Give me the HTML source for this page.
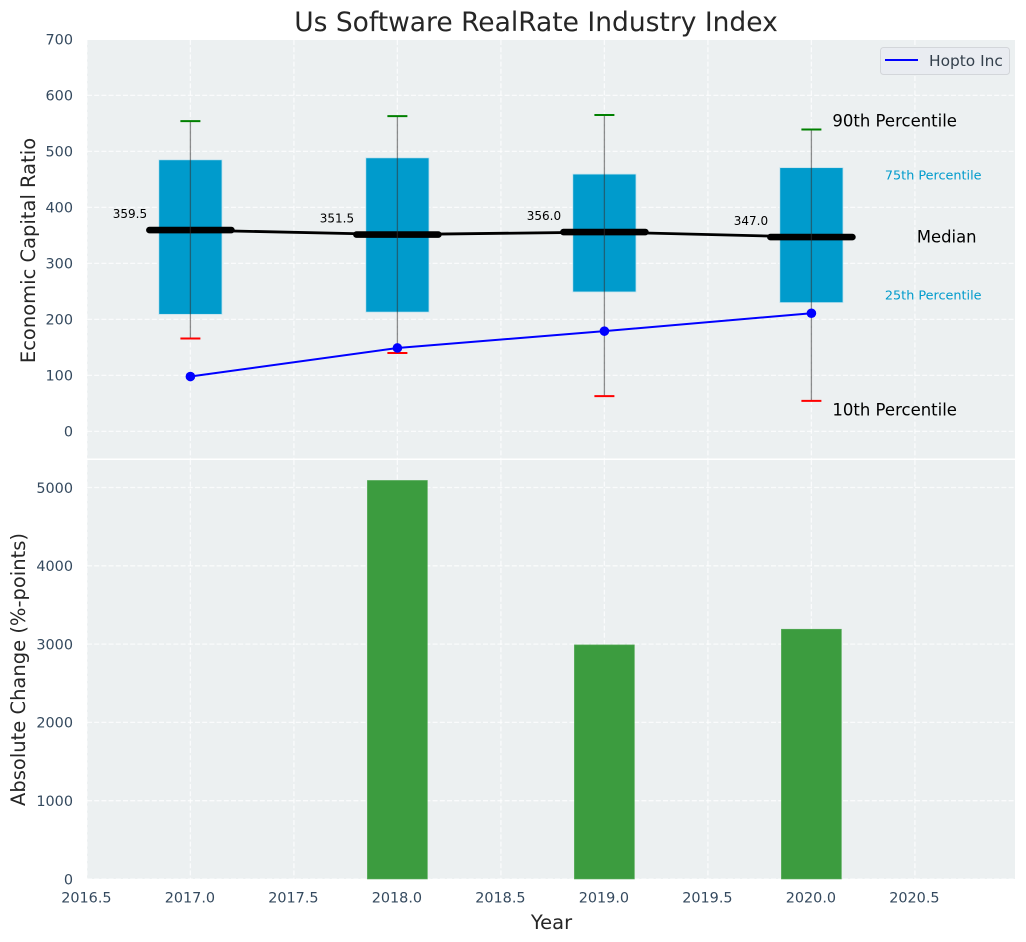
<!DOCTYPE html>
<html lang="en">
<head>
<meta charset="utf-8">
<title>Us Software RealRate Industry Index</title>
<style>
html,body{margin:0;padding:0;background:#fff;}
#chart{display:block;width:1026px;height:942px;font-family:"DejaVu Sans","Liberation Sans",sans-serif;}
</style>
</head>
<body>
<svg id="chart" xmlns="http://www.w3.org/2000/svg" width="1026" height="942" viewBox="0 0 1026 942">
  <rect x="87" y="40" width="928" height="418.5" fill="#ecf0f1"/>
  <rect x="87" y="460" width="928" height="419" fill="#ecf0f1"/>
  <g id="grid"></g>
  <g id="bars"></g>
  <g id="boxes"></g>
  <g id="labels"></g>
  <text x="536" y="31" font-size="26.5" fill="#262626" text-anchor="middle">Us Software RealRate Industry Index</text>
  <text transform="translate(35,250.5) rotate(-90)" font-size="19.5" fill="#262626" text-anchor="middle">Economic Capital Ratio</text>
  <text transform="translate(25,669.5) rotate(-90)" font-size="19.5" fill="#262626" text-anchor="middle">Absolute Change (%-points)</text>
  <text x="551.5" y="929" font-size="19.5" fill="#262626" text-anchor="middle">Year</text>
  <g>
    <rect x="880.5" y="47.5" width="129" height="27" rx="3" fill="#e9ecf1" stroke="#d3d6da" stroke-width="1"/>
    <line x1="885" y1="60" x2="918" y2="60" stroke="#0000ff" stroke-width="2"/>
    <text x="929" y="66" font-size="15.4" fill="#34404c">Hopto Inc</text>
  </g>
</svg>
<script>
const years = [2017, 2018, 2019, 2020];
const p90 = [554, 563, 565, 539];
const q3 = [485, 488.5, 459.5, 471];
const medians = [359.5, 351.5, 356.0, 347.0];
const q1 = [209, 213, 249, 230];
const p10 = [166, 140, 63, 54.6];
const company = [98, 149, 179, 211];
const changes = [null, 5090, 2990, 3190];
const xTicks = [2016.5, 2017.0, 2017.5, 2018.0, 2018.5, 2019.0, 2019.5, 2020.0, 2020.5];
const topYTicks = [0, 100, 200, 300, 400, 500, 600, 700];
const bottomYTicks = [0, 1000, 2000, 3000, 4000, 5000];

const NS = 'http://www.w3.org/2000/svg';
const xScale = function (v) { return 190.4 + (v - 2017) * 207; };
const yTop = function (v) { return 431.4 - v * 0.56; };
const yBottom = function (v) { return 879 - v * 0.0783; };

function make(parent, tag, attrs, text) {
  const el = document.createElementNS(NS, tag);
  Object.keys(attrs).forEach(function (k) { el.setAttribute(k, attrs[k]); });
  if (text !== undefined) { el.textContent = text; }
  parent.appendChild(el);
  return el;
}

const gridG = document.getElementById('grid');
const barsG = document.getElementById('bars');
const boxesG = document.getElementById('boxes');
const labelsG = document.getElementById('labels');
const gridStyle = { stroke: '#ffffff', 'stroke-width': 1.3, 'stroke-dasharray': '5 2.2', 'stroke-opacity': 0.75 };

xTicks.forEach(function (t) {
  const a = make(gridG, 'line', Object.assign({ x1: xScale(t), x2: xScale(t), y1: 40, y2: 458.5 }, gridStyle));
  
  
  const b = make(gridG, 'line', Object.assign({ x1: xScale(t), x2: xScale(t), y1: 460, y2: 879 }, gridStyle));
  
  
  const lab = make(labelsG, 'text', { x: xScale(t) - 0.5, y: 902.5, 'font-size': 14.4, fill: '#34495e', 'text-anchor': 'middle' }, t.toFixed(1));
  
  
});

topYTicks.forEach(function (t) {
  const l = make(gridG, 'line', Object.assign({ x1: 87, x2: 1015, y1: yTop(t), y2: yTop(t) }, gridStyle));
  
  
  const lab = make(labelsG, 'text', { x: 73, y: yTop(t) + 5.3, 'font-size': 14.4, fill: '#34495e', 'text-anchor': 'end' }, String(t));
  
  
});

bottomYTicks.forEach(function (t) {
  const l = make(gridG, 'line', Object.assign({ x1: 87, x2: 1015, y1: yBottom(t), y2: yBottom(t) }, gridStyle));
  
  
  const lab = make(labelsG, 'text', { x: 73, y: yBottom(t) + 5.3, 'font-size': 14.4, fill: '#34495e', 'text-anchor': 'end' }, String(t));
  
  
});

changes.forEach(function (v, i) {
  if (v === null) { return; }
  const h = yBottom(0) - yBottom(v);
  const bar = make(barsG, 'rect', { x: xScale(years[i] - 0.145), y: yBottom(v), width: 207 * 0.29, height: h, fill: '#3c9c3f', stroke: '#5aad5c', 'stroke-width': 0.6 });
  
  
});

years.forEach(function (yr, i) {
  const cx = xScale(yr);
  const box = make(boxesG, 'rect', { x: cx - 31.6, y: yTop(q3[i]), width: 63.2, height: yTop(q1[i]) - yTop(q3[i]), fill: '#009bcc', stroke: '#c2e3ee', 'stroke-width': 0.8 });
  
  
});

const medianPts = years.map(function (yr, i) { return xScale(yr) + ',' + yTop(medians[i]); }).join(' ');
const medianLine = make(boxesG, 'polyline', { points: medianPts, fill: 'none', stroke: '#000000', 'stroke-width': 2.8 });



years.forEach(function (yr, i) {
  const cx = xScale(yr);
  const m = make(boxesG, 'line', { x1: cx - 41, x2: cx + 41, y1: yTop(medians[i]), y2: yTop(medians[i]), stroke: '#000000', 'stroke-width': 6.6, 'stroke-linecap': 'round' });
  
  
  const w = make(boxesG, 'line', { x1: cx, x2: cx, y1: yTop(p90[i]), y2: yTop(p10[i]), stroke: '#333333', 'stroke-opacity': 0.55, 'stroke-width': 1.3 });
  
  
  const hi = make(boxesG, 'line', { x1: cx - 10, x2: cx + 10, y1: yTop(p90[i]), y2: yTop(p90[i]), stroke: '#008000', 'stroke-width': 2 });
  
  
  const lo = make(boxesG, 'line', { x1: cx - 10, x2: cx + 10, y1: yTop(p10[i]), y2: yTop(p10[i]), stroke: '#ff0000', 'stroke-width': 2 });
  
  
  const val = make(boxesG, 'text', { x: cx - 60.5, y: yTop(medians[i]) - 12, 'font-size': 12, fill: '#000000', 'text-anchor': 'middle' }, medians[i].toFixed(1));
  
  
});

const companyPts = years.map(function (yr, i) { return xScale(yr) + ',' + yTop(company[i]); }).join(' ');
const companyLine = make(boxesG, 'polyline', { points: companyPts, fill: 'none', stroke: '#0000ff', 'stroke-width': 2 });



years.forEach(function (yr, i) {
  const pt = make(boxesG, 'circle', { cx: xScale(yr), cy: yTop(company[i]), r: 4.8, fill: '#0000ff' });
  
  
});

const last = years.length - 1;
const lastX = xScale(years[last]);
const t90 = make(boxesG, 'text', { x: lastX + 21, y: yTop(p90[last]) - 3, 'font-size': 16.5, fill: '#000000' }, '90th Percentile');


const t75 = make(boxesG, 'text', { x: lastX + 73.5, y: yTop(q3[last]) + 12, 'font-size': 12.8, fill: '#009bcc' }, '75th Percentile');


const tm = make(boxesG, 'text', { x: lastX + 105.5, y: yTop(medians[last]) + 5.5, 'font-size': 16.4, fill: '#000000' }, 'Median');


const t25 = make(boxesG, 'text', { x: lastX + 73.5, y: yTop(q1[last]) - 3, 'font-size': 12.8, fill: '#009bcc' }, '25th Percentile');


const t10 = make(boxesG, 'text', { x: lastX + 21, y: yTop(p10[last]) + 14.5, 'font-size': 16.5, fill: '#000000' }, '10th Percentile');


</script>
</body>
</html>
